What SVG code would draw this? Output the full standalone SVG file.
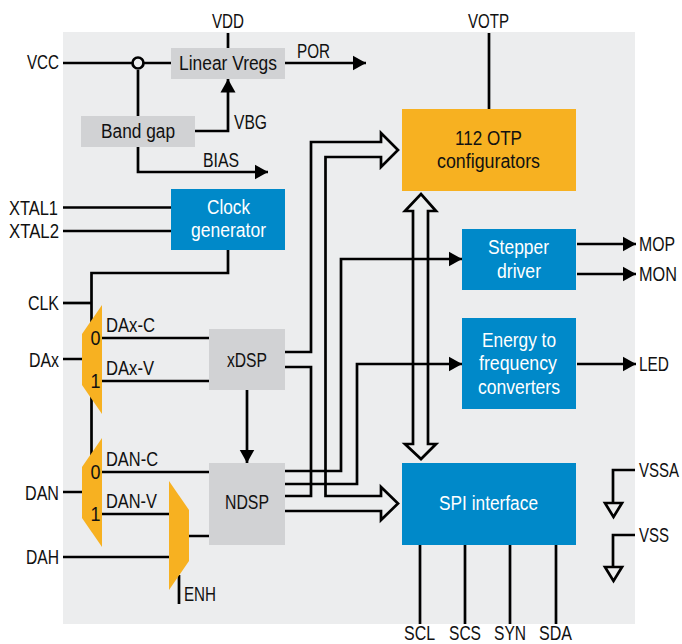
<svg xmlns="http://www.w3.org/2000/svg" width="682" height="644" viewBox="0 0 682 644">
<defs>
<style>
text{font-family:"Liberation Sans",Arial,sans-serif;font-size:19.5px;fill:#111;}
.w{fill:#fff}
.gray{fill:#d1d2d4}
.blue{fill:#0089c9}
.or{fill:#f7b121}
.l{fill:none;stroke:#000;stroke-width:2.7}
.h{fill:none;stroke:#000;stroke-width:2.7;stroke-miterlimit:10}
</style>
<marker id="a" markerUnits="userSpaceOnUse" markerWidth="14" markerHeight="16" refX="13.5" refY="8" orient="auto"><path d="M0 0.5L13.5 8L0 15.5Z"/></marker>
</defs>
<rect x="63" y="32" width="572" height="592" fill="#ecedee"/>
<g id="connectors">
<path class="l" d="M63 63H171"/>
<path class="l" d="M228 33V48"/>
<path class="l" d="M285 63H366" marker-end="url(#a)"/>
<path class="l" d="M138 70V116"/>
<path class="l" d="M195 131H228V79" marker-end="url(#a)"/>
<path class="l" d="M138 147V172H268" marker-end="url(#a)"/>
<path class="l" d="M63 207.500H171M63 231H171"/>
<path class="l" d="M228 250V273H91.500V470"/>
<path class="l" d="M63 303H91.500"/>
<path class="l" d="M63 359H82M63 492H82M63 557H169"/>
<path class="l" d="M102 338H209M102 381H209M102 472H209M102 514H169M189 536H209"/>
<path class="l" d="M247 390V463" marker-end="url(#a)"/>
<path class="l" d="M179 575V604"/>
<path class="l" d="M489 33V109"/>
<path class="l" d="M285 471H341V259H462" marker-end="url(#a)"/>
<path class="l" d="M285 484H357V364H462" marker-end="url(#a)"/>
<path class="l" d="M577 244H636" marker-end="url(#a)"/>
<path class="l" d="M577 274H636" marker-end="url(#a)"/>
<path class="l" d="M577 364H636" marker-end="url(#a)"/>
<path class="h" d="M285 352H311V142H381V133L398 150L381 167V157H325.500V496H381V487L398 503.500L381 520V511H285"/>
<path class="l" d="M285 367H311V496H285"/>
<path class="h" d="M413 211V444H405L421 459L436 444H428V211H436L421 194L405 211Z"/>
<path class="l" d="M420 545V624M465 545V624M510 545V624M556 545V624"/>
<path class="l" d="M635 470H613V503"/>
<path class="l" d="M635 535H613V567"/>
<path class="h" d="M605 503H622L613.500 517Z"/>
<path class="h" d="M605 567H622L613.500 581Z"/>
</g>
<circle cx="138" cy="63" r="5.500" fill="#ecedee" stroke="#000" stroke-width="2.700"/>
<g id="linear-vregs"><rect class="gray" x="171" y="48" width="114" height="31"/><text x="179" y="69.500" textLength="98" lengthAdjust="spacingAndGlyphs">Linear Vregs</text></g>
<g id="band-gap"><rect class="gray" x="81" y="116" width="114" height="31"/><text x="101" y="138" textLength="74" lengthAdjust="spacingAndGlyphs">Band gap</text></g>
<g id="clock"><rect class="blue" x="171" y="189" width="114" height="61"/><text class="w" x="207" y="214" textLength="43" lengthAdjust="spacingAndGlyphs">Clock</text><text class="w" x="191" y="237" textLength="75" lengthAdjust="spacingAndGlyphs">generator</text></g>
<g id="otp"><rect class="or" x="402" y="109" width="174" height="82"/><text x="455" y="145" textLength="67" lengthAdjust="spacingAndGlyphs">112 OTP</text><text x="437" y="168" textLength="103" lengthAdjust="spacingAndGlyphs">configurators</text></g>
<g id="stepper"><rect class="blue" x="462" y="229" width="114" height="61"/><text class="w" x="488" y="254" textLength="61" lengthAdjust="spacingAndGlyphs">Stepper</text><text class="w" x="497" y="278" textLength="44" lengthAdjust="spacingAndGlyphs">driver</text></g>
<g id="energy"><rect class="blue" x="462" y="318" width="114" height="91"/><text class="w" x="482" y="347" textLength="74" lengthAdjust="spacingAndGlyphs">Energy to</text><text class="w" x="479" y="370" textLength="78" lengthAdjust="spacingAndGlyphs">frequency</text><text class="w" x="478" y="394" textLength="82" lengthAdjust="spacingAndGlyphs">converters</text></g>
<g id="spi"><rect class="blue" x="402" y="463" width="174" height="82"/><text class="w" x="439" y="510" textLength="99" lengthAdjust="spacingAndGlyphs">SPI interface</text></g>
<g id="xdsp"><rect class="gray" x="209" y="329" width="76" height="61"/><text x="227" y="367" textLength="40" lengthAdjust="spacingAndGlyphs">xDSP</text></g>
<g id="ndsp"><rect class="gray" x="209" y="463" width="76" height="82"/><text x="225" y="509" textLength="44" lengthAdjust="spacingAndGlyphs">NDSP</text></g>
<g id="mux1"><path class="or" d="M102 305V414L82 385V334Z"/><text x="90.500" y="345" textLength="10" lengthAdjust="spacingAndGlyphs">0</text><text x="90.500" y="387.500" textLength="10" lengthAdjust="spacingAndGlyphs">1</text></g>
<g id="mux2"><path class="or" d="M102 438V547L82 518V467Z"/><text x="90.500" y="479" textLength="10" lengthAdjust="spacingAndGlyphs">0</text><text x="90.500" y="521" textLength="10" lengthAdjust="spacingAndGlyphs">1</text></g>
<g id="mux3"><path class="or" d="M169 481V590L189 561V510Z"/></g>
<g id="labels">
<text x="212" y="28" textLength="32" lengthAdjust="spacingAndGlyphs">VDD</text>
<text x="468" y="28" textLength="41" lengthAdjust="spacingAndGlyphs">VOTP</text>
<text x="27" y="69" textLength="32" lengthAdjust="spacingAndGlyphs">VCC</text>
<text x="297" y="58" textLength="33" lengthAdjust="spacingAndGlyphs">POR</text>
<text x="234" y="129" textLength="33" lengthAdjust="spacingAndGlyphs">VBG</text>
<text x="203" y="167" textLength="36" lengthAdjust="spacingAndGlyphs">BIAS</text>
<text x="9" y="215" textLength="49" lengthAdjust="spacingAndGlyphs">XTAL1</text>
<text x="9" y="238" textLength="50" lengthAdjust="spacingAndGlyphs">XTAL2</text>
<text x="28" y="310" textLength="31" lengthAdjust="spacingAndGlyphs">CLK</text>
<text x="29" y="367" textLength="30" lengthAdjust="spacingAndGlyphs">DAx</text>
<text x="25" y="500" textLength="34" lengthAdjust="spacingAndGlyphs">DAN</text>
<text x="26" y="564" textLength="33" lengthAdjust="spacingAndGlyphs">DAH</text>
<text x="106" y="332" textLength="49" lengthAdjust="spacingAndGlyphs">DAx-C</text>
<text x="106" y="375" textLength="48" lengthAdjust="spacingAndGlyphs">DAx-V</text>
<text x="106" y="466" textLength="52" lengthAdjust="spacingAndGlyphs">DAN-C</text>
<text x="106" y="508" textLength="51" lengthAdjust="spacingAndGlyphs">DAN-V</text>
<text x="184" y="601" textLength="32" lengthAdjust="spacingAndGlyphs">ENH</text>
<text x="639" y="251" textLength="36" lengthAdjust="spacingAndGlyphs">MOP</text>
<text x="639" y="281" textLength="38" lengthAdjust="spacingAndGlyphs">MON</text>
<text x="639" y="371" textLength="30" lengthAdjust="spacingAndGlyphs">LED</text>
<text x="639" y="477" textLength="40" lengthAdjust="spacingAndGlyphs">VSSA</text>
<text x="639" y="542" textLength="30" lengthAdjust="spacingAndGlyphs">VSS</text>
<text x="404" y="640" textLength="31" lengthAdjust="spacingAndGlyphs">SCL</text>
<text x="449" y="640" textLength="32" lengthAdjust="spacingAndGlyphs">SCS</text>
<text x="494" y="640" textLength="32" lengthAdjust="spacingAndGlyphs">SYN</text>
<text x="539" y="640" textLength="33" lengthAdjust="spacingAndGlyphs">SDA</text>
</g>
</svg>
